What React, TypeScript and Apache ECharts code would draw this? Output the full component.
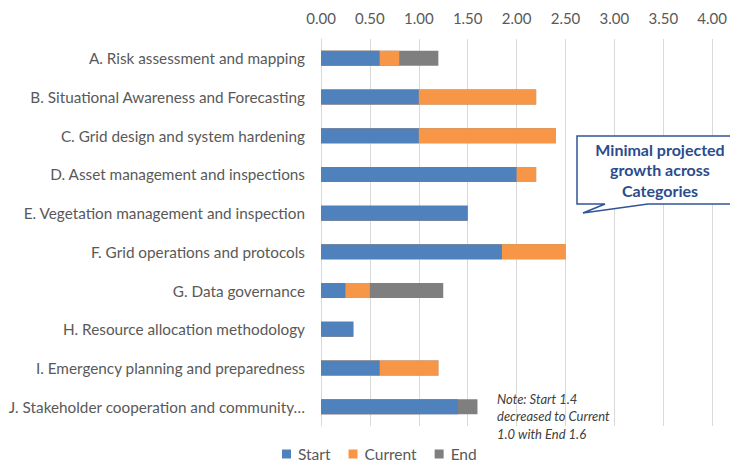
import React, { useEffect, useRef } from "react";
import * as echarts from "echarts";

const categories = [
  "A. Risk assessment and mapping",
  "B. Situational Awareness and Forecasting",
  "C. Grid design and system hardening",
  "D. Asset management and inspections",
  "E. Vegetation management and inspection",
  "F. Grid operations and protocols",
  "G. Data governance",
  "H. Resource allocation methodology",
  "I. Emergency planning and preparedness",
  "J. Stakeholder cooperation and community…",
];
const startValues = [0.6, 1.0, 1.0, 2.0, 1.5, 1.85, 0.25, 0.33, 0.6, 1.4];
const currentValues = [0.8, 2.2, 2.4, 2.2, 1.5, 2.5, 0.5, 0.33, 1.2, 1.0];
const endValues = [1.2, 2.2, 2.4, 2.2, 1.5, 2.5, 1.25, 0.33, 1.2, 1.6];
const legendNames = ["Start", "Current", "End"];
const noteLines = ["Note: Start 1.4", "decreased to Current", "1.0 with End 1.6"];
const calloutLines = ["Minimal projected", "growth across", "Categories"];

const FONT = "Lato, 'Noto Sans', sans-serif";

export default function App() {
  const ref = useRef<HTMLDivElement>(null);
  useEffect(() => {
    if (!ref.current) return;
    const chart = echarts.init(ref.current, undefined, { renderer: "svg" });
    const barBase = { type: "bar", barWidth: 15, barGap: "-100%" };
    chart.setOption({
      animation: false,
      textStyle: { fontFamily: FONT },
      grid: { left: 321, right: 17, top: 39, height: 387 },
      legend: {
        data: legendNames,
        bottom: 1,
        padding: 0,
        left: 282,
        icon: "rect",
        itemWidth: 9,
        itemHeight: 9,
        itemGap: 18,
        textStyle: { color: "#595959", fontSize: 15.5, fontFamily: FONT, padding: [0, 0, 0, 2] },
      },
      xAxis: {
        type: "value",
        position: "top",
        min: 0,
        max: 4,
        interval: 0.5,
        axisLine: { show: false },
        axisTick: { show: false },
        axisLabel: {
          color: "#595959",
          fontSize: 15,
          margin: 14,
          formatter: (v: number) => v.toFixed(2),
        },
        splitLine: { lineStyle: { color: "#d9d9d9", width: 1 } },
      },
      yAxis: {
        type: "category",
        data: categories,
        inverse: true,
        axisLine: { show: true, lineStyle: { color: "#d9d9d9" } },
        axisTick: { show: false },
        axisLabel: { color: "#595959", fontSize: 15.3, margin: 16 },
      },
      series: [
        { ...barBase, name: "End", data: endValues, itemStyle: { color: "#7f7f7f" } },
        { ...barBase, name: "Current", data: currentValues, itemStyle: { color: "#f79646" } },
        { ...barBase, name: "Start", data: startValues, itemStyle: { color: "#4f81bd" } },
      ],
      graphic: [
        {
          type: "polygon",
          shape: {
            points: [
              [577, 136],
              [748, 136],
              [748, 204],
              [648, 204],
              [583, 213],
              [605, 204],
              [577, 204],
            ],
          },
          style: { fill: "#ffffff", stroke: "#2f5597", lineWidth: 1.5 },
          z: 100,
        },
        {
          type: "text",
          x: 660,
          y: 139,
          z: 101,
          style: {
            text: calloutLines.join("\n"),
            fill: "#2b4c8c",
            font: `bold 16px ${FONT}`,
            lineHeight: 20.5,
            align: "center",
          },
        },
        {
          type: "text",
          x: 497,
          y: 390,
          z: 101,
          style: {
            text: noteLines.join("\n"),
            fill: "#404040",
            font: `italic 13px ${FONT}`,
            lineHeight: 17.5,
          },
        },
      ],
    });
    return () => chart.dispose();
  }, []);
  return <div ref={ref} style={{ width: 730, height: 463, position: "absolute", left: 0, top: 0 }} />;
}
